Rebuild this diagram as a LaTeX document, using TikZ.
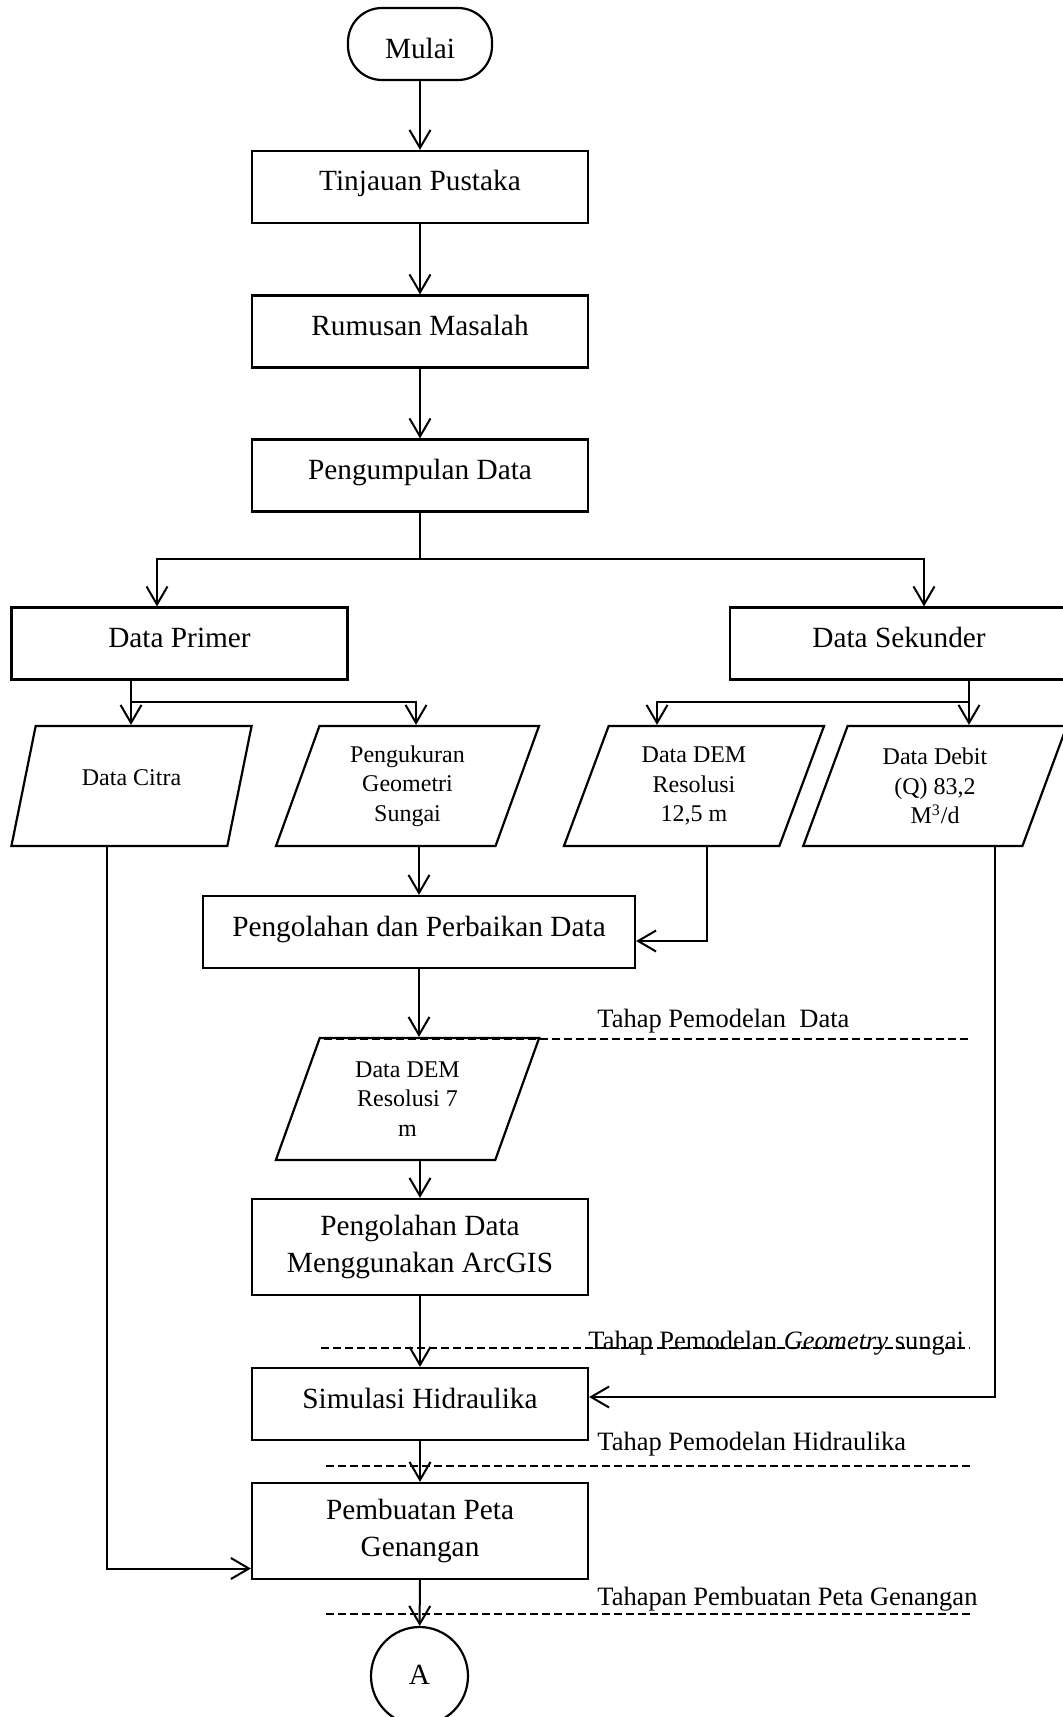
\documentclass[tikz,border=0pt]{standalone}
\usepackage{fontspec}
\setmainfont{Liberation Serif}
\usetikzlibrary{shapes.geometric,arrows.meta}

\tikzset{
	kasten/.style={draw, line width=1.1pt, minimum width=168pt, minimum height=36pt, inner sep=2pt, align=center, font=\fontsize{14.65}{18.5}\selectfont},
	einzeilig/.style={text height=10pt, text depth=6pt},
	datenbox/.style={draw, line width=1.1pt, trapezium, trapezium left angle=71, trapezium right angle=109, trapezium stretches=true, minimum width=132.5pt, minimum height=60pt, inner sep=1pt, align=center, font=\fontsize{12}{14.8}\selectfont},
	pfeil/.style={line width=1pt, -{Straight Barb[length=9pt,width=10.5pt]}},
	linie/.style={line width=1pt},
	trenn/.style={line width=1pt, dash pattern=on 4pt off 2pt},
	etikett/.style={anchor=base west, inner sep=0pt, font=\fontsize{13.25}{16}\selectfont}
}

\begin{document}
\begin{tikzpicture}[x=0.5pt, y=-0.5pt]
	\useasboundingbox (0,0) rectangle (1062,1717);

	% Start und Hauptkette
	\node[draw, line width=1.1pt, rounded corners=17pt, minimum width=72pt, minimum height=36pt, text height=15pt, text depth=0pt, font=\fontsize{14.65}{18}\selectfont] (mulai) at (420,44) {Mulai};
	\node[kasten, einzeilig] (tinjauan) at (420,187) {Tinjauan Pustaka};
	\node[kasten, einzeilig] (rumusan) at (420,331.5) {Rumusan Masalah};
	\node[kasten, einzeilig] (pengumpulan) at (420,475.5) {Pengumpulan Data};

	% Primaer- und Sekundaerdaten
	\node[kasten, einzeilig] (primer) at (179.5,643.5) {Data Primer};
	\node[kasten, einzeilig, minimum width=169pt] (sekunder) at (899,643.5) {Data Sekunder};

	% Eingangsdaten (Parallelogramme)
	\node[datenbox, minimum width=120.5pt, text height=8pt, text depth=9pt] (citra) at (131.5,786) {Data Citra};
	\node[datenbox] (ukur) at (407.5,786) {Pengukuran\\Geometri\\Sungai};
	\node[datenbox, minimum width=131pt] (dem) at (694,786) {Data DEM\\Resolusi\\12,5 m};
	\node[datenbox, minimum width=132pt] (debit) at (935,786) {Data Debit\\(Q) 83,2\\M\textsuperscript{3}/d};

	% Verarbeitung
	\node[kasten, einzeilig, minimum width=216pt] (olah) at (419,932) {Pengolahan dan Perbaikan Data};
	\node[datenbox, minimum height=61pt] (dem7) at (407.5,1099) {Data DEM\\Resolusi 7\\m};
	\node[kasten, minimum height=48pt] (arcgis) at (420,1247) {Pengolahan Data\\Menggunakan ArcGIS};
	\node[kasten, einzeilig] (simulasi) at (420,1404) {Simulasi Hidraulika};
	\node[kasten, minimum height=48pt] (peta) at (420,1531) {Pembuatan Peta\\Genangan};
	\node[draw, ellipse, line width=1.1pt, minimum width=48.5pt, minimum height=49pt, text height=10pt, text depth=2pt, font=\fontsize{14.65}{18}\selectfont] (ende) at (419.5,1676) {A};

	% Trennlinien der Tahapan
	\foreach \x/\y in {324/1039, 321/1348, 326/1466, 326/1614} {
		\draw[trenn] (\x,\y) -- (970,\y);
	}
	\node[etikett] (tahap1) at (597,1027) {Tahap Pemodelan\ \ Data};
	\node[etikett] (tahap2) at (588,1349) {Tahap Pemodelan \textit{Geometry} sungai};
	\node[etikett] (tahap3) at (597,1450) {Tahap Pemodelan Hidraulika};
	\node[etikett] (tahap4) at (597,1605) {Tahapan Pembuatan Peta Genangan};

	% Pfeile der Hauptkette
	\draw[pfeil] (mulai) -- (tinjauan);
	\draw[pfeil] (tinjauan) -- (rumusan);
	\draw[pfeil] (rumusan) -- (pengumpulan);

	% Verzweigung nach Primer und Sekunder
	\coordinate (zweig) at (420,559);
	\draw[linie] (pengumpulan.south) -- (zweig);
	\draw[pfeil] (zweig) -| ([xshift=-11.25pt]primer.north);
	\draw[pfeil] (zweig) -| ([xshift=12.5pt]sekunder.north);

	\coordinate (zweigP) at (131,702);
	\draw[linie] ([xshift=-24.25pt]primer.south) -- (zweigP);
	\draw[pfeil] (zweigP) -- (zweigP |- citra.north);
	\draw[pfeil] (zweigP) -| ([xshift=4.25pt]ukur.north);

	\coordinate (zweigS) at (969,702);
	\draw[linie] ([xshift=35pt]sekunder.south) -- (zweigS);
	\draw[pfeil] (zweigS) -- (zweigS |- debit.north);
	\draw[pfeil] (zweigS) -| ([xshift=-18.5pt]dem.north);

	% Datenfluss nach unten
	\draw[pfeil] (olah.north |- ukur.south) -- (olah.north);
	\draw[pfeil] ([xshift=6.5pt]dem.south) |- ([yshift=-4.5pt]olah.east);
	\draw[pfeil] (olah.south) -- (olah.south |- dem7.north);
	\draw[pfeil] (arcgis.north |- dem7.south) -- (arcgis.north);
	\draw[pfeil] (arcgis) -- (simulasi);
	\draw[pfeil] ([xshift=30pt]debit.south) |- ([yshift=3.5pt]simulasi.east);
	\draw[pfeil] (simulasi) -- (peta);
	\draw[pfeil] ([xshift=-12.25pt]citra.south) |- ([yshift=-18.75pt]peta.west);
	\draw[pfeil] (peta) -- (ende);
\end{tikzpicture}
\end{document}
